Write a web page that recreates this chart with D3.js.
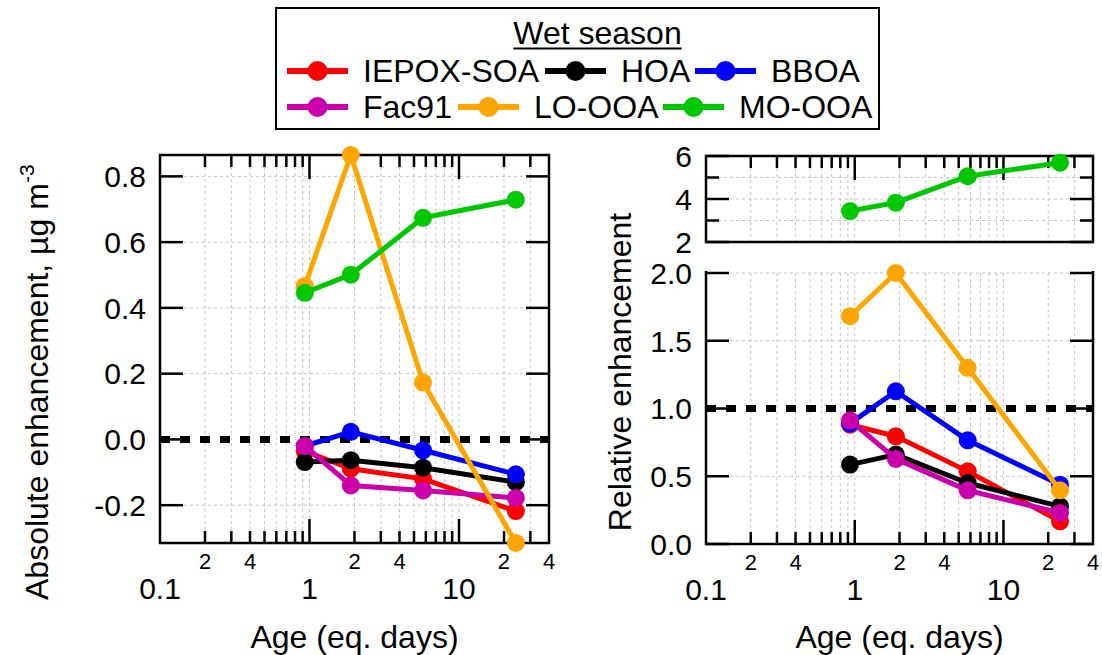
<!DOCTYPE html>
<html>
<head>
<meta charset="utf-8">
<script src="https://cdn.jsdelivr.net/npm/d3@7"></script>
<style>
body { margin: 0; background: #fff; }
svg text { font-family: "Liberation Sans", Arial, sans-serif; fill: #000; }
</style>
</head>
<body>
<svg id="chart" width="1102" height="655"></svg>
<script>
// data (wet season)
const ages = [0.93, 1.89, 5.75, 24];
const seriesNames = ["IEPOX-SOA", "HOA", "BBOA", "Fac91", "LO-OOA", "MO-OOA"];
const seriesColors = ["#ff0000", "#000000", "#0000ff", "#cc00aa", "#ffa500", "#00c800"];

// absolute enhancement, ug m-3
const absIEPOX = [-0.036, -0.089, -0.12, -0.218];
const absHOA = [-0.069, -0.063, -0.086, -0.13];
const absBBOA = [-0.02, 0.023, -0.033, -0.106];
const absFac91 = [-0.02, -0.14, -0.155, -0.178];
const absLOOOA = [0.466, 0.865, 0.173, -0.315];
const absMOOOA = [0.446, 0.501, 0.674, 0.729];

// relative enhancement
const relIEPOX = [0.88, 0.795, 0.536, 0.167];
const relHOA = [0.586, 0.66, 0.45, 0.278];
const relBBOA = [0.89, 1.127, 0.765, 0.438];
const relFac91 = [0.913, 0.628, 0.396, 0.229];
const relLOOOA = [1.681, 2.0, 1.30, 0.396];
const relMOOOA = [3.44, 3.83, 5.06, 5.69];

// ticks
const majorAges = [0.1, 1, 10];
const minorAges = [0.2, 0.3, 0.4, 0.5, 0.6, 0.7, 0.8, 0.9, 2, 3, 4, 5, 6, 7, 8, 9, 20, 30];
const minorLabelAges = [0.2, 0.4, 2, 4, 20, 40];
const minorLabels = ["2", "4", "2", "4", "2", "4"];
const absTicks = [-0.2, 0, 0.2, 0.4, 0.6, 0.8];
const relTicks = [0, 0.5, 1, 1.5, 2];
const relTopTicks = [2, 4, 6];
const relTopMinor = [3, 5];

const absSeries = [absIEPOX, absHOA, absBBOA, absFac91, absLOOOA, absMOOOA];
const relSeries = [relIEPOX, relHOA, relBBOA, relFac91, relLOOOA, relMOOOA];

const svg = d3.select("#chart");
const gridColor = "#c4c4c4";
const frameW = 2.5;

// inward x ticks on the top or bottom edge
function xTicks(g, x, h, top) {
    const y0 = top ? 0 : h, dir = top ? 1 : -1;
    const t = g.append("g").attr("stroke", "#000").attr("stroke-width", frameW);
    t.selectAll(".maj").data(majorAges.slice(1)).join("line").attr("class", "maj")
        .attr("x1", d => x(d)).attr("x2", d => x(d)).attr("y1", y0).attr("y2", y0 + dir * 24);
    t.selectAll(".min").data(minorAges).join("line").attr("class", "min")
        .attr("x1", d => x(d)).attr("x2", d => x(d)).attr("y1", y0).attr("y2", y0 + dir * 12);
}

function xLabels(g, x, h) {
    g.append("g").selectAll("text").data(majorAges).join("text")
        .attr("x", d => x(d)).attr("y", h + 56).attr("text-anchor", "middle")
        .attr("font-size", 30).text(d => String(d));
    g.append("g").selectAll("text").data(minorLabelAges).join("text")
        .attr("x", d => x(d)).attr("y", h + 26).attr("text-anchor", "middle")
        .attr("font-size", 22).text((d, i) => minorLabels[i]);
}

function xGrid(g, x, h) {
    g.append("g").selectAll("line").data(majorAges.slice(1).concat(minorAges)).join("line")
        .attr("x1", d => x(d)).attr("x2", d => x(d)).attr("y1", 0).attr("y2", h)
        .attr("stroke", gridColor).attr("stroke-width", 1).attr("stroke-dasharray", "3,3");
}

function yGrid(g, y, w, vals) {
    g.append("g").selectAll("line").data(vals).join("line")
        .attr("x1", 0).attr("x2", w).attr("y1", d => y(d)).attr("y2", d => y(d))
        .attr("stroke", gridColor).attr("stroke-width", 1).attr("stroke-dasharray", "3,3");
}

// inward y ticks on both sides, optional labels on the left
function yTicks(g, y, w, vals, len, fmt) {
    const t = g.append("g").attr("stroke", "#000").attr("stroke-width", frameW);
    t.selectAll(".l").data(vals).join("line").attr("class", "l")
        .attr("x1", 0).attr("x2", len).attr("y1", d => y(d)).attr("y2", d => y(d));
    t.selectAll(".r").data(vals).join("line").attr("class", "r")
        .attr("x1", w - len).attr("x2", w).attr("y1", d => y(d)).attr("y2", d => y(d));
    if (fmt) {
        g.append("g").selectAll("text").data(vals).join("text")
            .attr("x", -14).attr("y", d => y(d)).attr("dy", "0.36em")
            .attr("text-anchor", "end").attr("font-size", 30).text(fmt);
    }
}

function refLine(g, y, w, v) {
    g.append("line").attr("x1", 0).attr("x2", w).attr("y1", y(v)).attr("y2", y(v))
        .attr("stroke", "#000").attr("stroke-width", 7).attr("stroke-dasharray", "10,10");
}

function drawSeries(g, x, y, data, which) {
    const line = d3.line().x((d, i) => x(ages[i])).y(d => y(d));
    which.forEach(k => {
        const vals = data[k];
        const s = g.append("g");
        s.append("path").attr("d", line(vals)).attr("fill", "none")
            .attr("stroke", seriesColors[k]).attr("stroke-width", 5).attr("stroke-linejoin", "round");
        s.selectAll("circle").data(vals).join("circle")
            .attr("cx", (d, i) => x(ages[i])).attr("cy", d => y(d)).attr("r", 9)
            .attr("fill", seriesColors[k]);
    });
}

// ---- left panel: absolute enhancement
{
    const W = 389, H = 388;
    const g = svg.append("g").attr("transform", "translate(160,155)");
    const x = d3.scaleLog().domain([0.1, 40]).range([0, W]);
    const y = d3.scaleLinear().domain([-0.315, 0.865]).range([H, 0]);
    xGrid(g, x, H);
    yGrid(g, y, W, absTicks.filter(d => d !== 0));
    refLine(g, y, W, 0);
    g.append("rect").attr("width", W).attr("height", H).attr("fill", "none")
        .attr("stroke", "#000").attr("stroke-width", frameW);
    xTicks(g, x, H, false);
    xTicks(g, x, H, true);
    yTicks(g, y, W, absTicks, 23, d => d.toFixed(1));
    xLabels(g, x, H);
    drawSeries(g, x, y, absSeries, [0, 1, 2, 3, 4, 5]);

    g.append("text").attr("x", W / 2).attr("y", 493).attr("text-anchor", "middle")
        .attr("font-size", 32).text("Age (eq. days)");
    const t = svg.append("text").attr("transform", "translate(48,600) rotate(-90)")
        .attr("font-size", 32);
    t.append("tspan").text("Absolute enhancement, \u00b5g m");
    t.append("tspan").attr("dy", -14).attr("font-size", 21).text("-3");
}

// ---- right panel: relative enhancement (broken axis)
{
    const W = 387;
    const x = d3.scaleLog().domain([0.1, 40]).range([0, W]);

    // upper part 2..6
    const Ht = 86;
    const gt = svg.append("g").attr("transform", "translate(706,156)");
    const yt = d3.scaleLinear().domain([2, 6]).range([Ht, 0]);
    xGrid(gt, x, Ht);
    yGrid(gt, yt, W, [3, 4, 5]);
    gt.append("rect").attr("width", W).attr("height", Ht).attr("fill", "none")
        .attr("stroke", "#000").attr("stroke-width", frameW);
    xTicks(gt, x, Ht, true);
    yTicks(gt, yt, W, relTopTicks, 23, d => String(d));
    yTicks(gt, yt, W, relTopMinor, 13);
    drawSeries(gt, x, yt, relSeries, [5]);

    // lower part 0..2
    const Hb = 271;
    const gb = svg.append("g").attr("transform", "translate(706,273)");
    const yb = d3.scaleLinear().domain([0, 2]).range([Hb, 0]);
    xGrid(gb, x, Hb);
    yGrid(gb, yb, W, [0.5, 1.5, 2]);
    refLine(gb, yb, W, 1);
    gb.append("path").attr("d", `M0,-2V${Hb}H${W}V-2`).attr("fill", "none")
        .attr("stroke", "#000").attr("stroke-width", frameW);
    xTicks(gb, x, Hb, false);
    yTicks(gb, yb, W, relTicks, 23, d => d.toFixed(1));
    xLabels(gb, x, Hb);
    drawSeries(gb, x, yb, relSeries, [0, 1, 2, 3, 4]);

    gb.append("text").attr("x", W / 2).attr("y", Hb + 104).attr("text-anchor", "middle")
        .attr("font-size", 32).text("Age (eq. days)");
    svg.append("text").attr("transform", "translate(631,372) rotate(-90)")
        .attr("text-anchor", "middle").attr("font-size", 32).text("Relative enhancement");
}

// ---- legend
{
    const lg = svg.append("g");
    lg.append("rect").attr("x", 276).attr("y", 8).attr("width", 603).attr("height", 121)
        .attr("fill", "#fff").attr("stroke", "#000").attr("stroke-width", 2);
    const title = lg.append("text").attr("x", 597.5).attr("y", 44).attr("text-anchor", "middle")
        .attr("font-size", 32).text("Wet season");
    const bb = title.node().getBBox();
    lg.append("line").attr("x1", bb.x).attr("x2", bb.x + bb.width).attr("y1", 48.5).attr("y2", 48.5)
        .attr("stroke", "#000").attr("stroke-width", 2);
    const cols = [[287, 545, 695], [287, 458, 663]];
    const rowsY = [71, 107];
    seriesNames.forEach((name, k) => {
        const r = Math.floor(k / 3), c = k % 3;
        const x0 = cols[r][c], yy = rowsY[r];
        lg.append("line").attr("x1", x0).attr("x2", x0 + 61).attr("y1", yy).attr("y2", yy)
            .attr("stroke", seriesColors[k]).attr("stroke-width", 6);
        lg.append("circle").attr("cx", x0 + 30.5).attr("cy", yy).attr("r", 10).attr("fill", seriesColors[k]);
        lg.append("text").attr("x", x0 + 76).attr("y", yy + 11).attr("font-size", 32).text(name);
    });
}
</script>
</body>
</html>
